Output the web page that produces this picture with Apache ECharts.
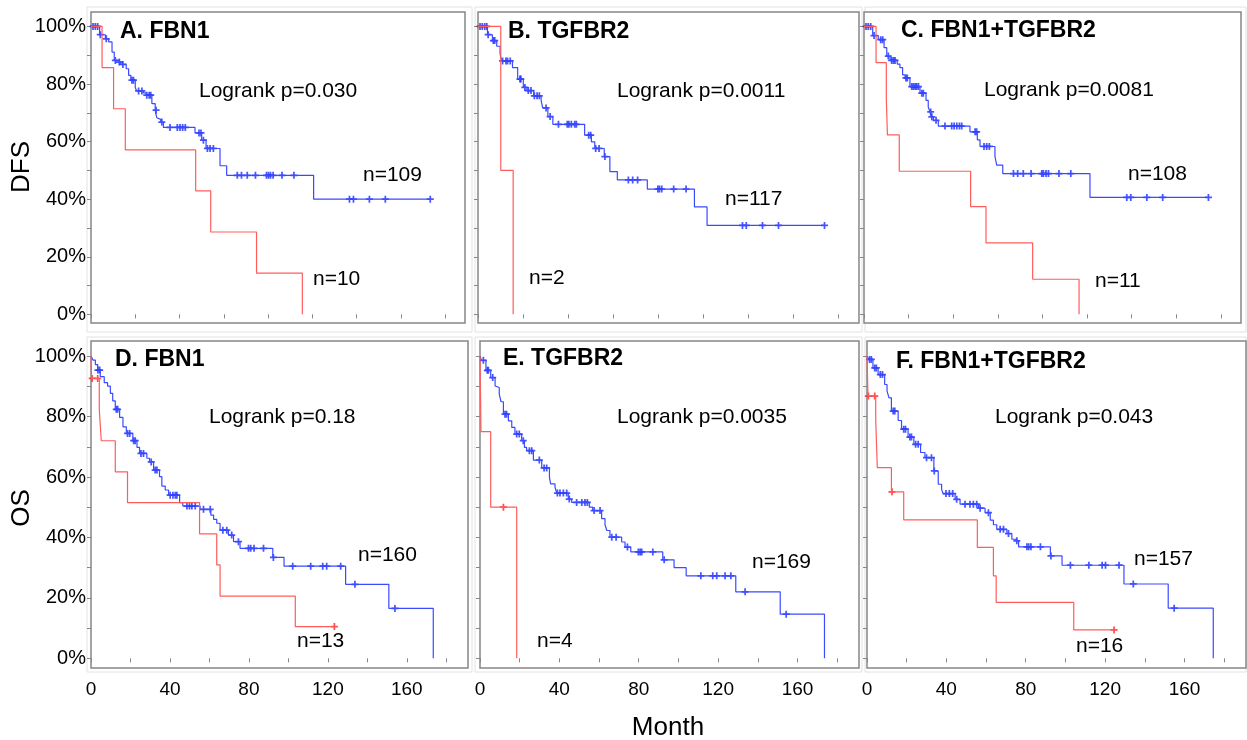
<!DOCTYPE html>
<html>
<head>
<meta charset="utf-8">
<script src="https://cdn.jsdelivr.net/npm/echarts@6/dist/echarts.min.js"></script>
<style>
  html, body { margin: 0; padding: 0; background: #fff; }
  #chart { width: 1247px; height: 740px; }
</style>
</head>
<body>
<div id="chart"></div>
<script>
// panel labels
const titles = ['A. FBN1', 'B. TGFBR2', 'C. FBN1+TGFBR2', 'D. FBN1', 'E. TGFBR2', 'F. FBN1+TGFBR2']
const pLabels = ['Logrank p=0.030', 'Logrank p=0.0011', 'Logrank p=0.0081', 'Logrank p=0.18', 'Logrank p=0.0035', 'Logrank p=0.043']
const nBlue = ['n=109', 'n=117', 'n=108', 'n=160', 'n=169', 'n=157']
const nRed = ['n=10', 'n=2', 'n=11', 'n=13', 'n=4', 'n=16']

const yTicks = [0, 10, 20, 30, 40, 50, 60, 70, 80, 90, 100]
const yLabels = [0, 20, 40, 60, 80, 100]
const xTicksDFS = [0, 20, 40, 60, 80, 100, 120, 140, 160]
const xTicksOS = [0, 20, 40, 60, 80, 100, 120, 140, 160, 180]
const xLabelsOS = [0, 40, 80, 120, 160]

// A. FBN1 DFS
const aBlueT = [3.9, 6.5, 8.0, 9.5, 10.5, 12.0, 13.5, 15.9, 17.0, 18.0, 20.0, 20.7, 23.7, 24.9, 27.5, 29.0, 29.7, 30.5, 31.5, 32.7, 47.0, 50.0, 52.0, 58.3, 61.3, 100.6]
const aBlueS = [97.1, 95.7, 94.6, 91.1, 88.2, 87.6, 86.8, 85.3, 83.0, 81.3, 78.7, 77.6, 76.9, 76.1, 73.2, 70.9, 68.3, 67.7, 66.8, 64.9, 63.0, 60.5, 57.6, 51.6, 48.3, 40.0]
const aBlueC = [0.9, 1.95, 3.0, 4.2, 6.9, 11.0, 12.8, 14.4, 18.5, 19.2, 21.5, 23.0, 25.2, 26.3, 27.0, 29.4, 32.0, 35.7, 39.0, 40.2, 41.4, 42.6, 48.8, 49.7, 50.8, 52.6, 53.8, 55.3, 66.1, 68.0, 70.6, 74.3, 79.3, 80.2, 81.1, 82.3, 86.3, 91.7, 116.8, 118.6, 125.8, 133.0, 153.3]
const aRedT = [5.0, 10.2, 15.5, 47.3, 54.1, 74.8, 95.5]
const aRedS = [85.7, 71.4, 57.1, 42.9, 28.6, 14.3, 0]
const aRedC = []

// B. TGFBR2 DFS
const bBlueT = [4.2, 6.4, 8.3, 9.8, 10.4, 15.3, 17.6, 20.1, 21.7, 24.7, 28.0, 28.7, 31.0, 33.2, 47.3, 50.3, 51.8, 56.0, 58.5, 61.8, 75.1, 96.0, 101.6]
const bBlueS = [97.1, 95.1, 93.1, 90.5, 88.0, 85.7, 81.7, 78.8, 77.7, 75.9, 74.2, 71.7, 68.7, 66.0, 62.2, 59.9, 57.6, 54.8, 49.6, 46.7, 43.5, 37.3, 30.9]
const bBlueC = [0.9, 1.9, 3.0, 3.9, 4.5, 6.8, 7.4, 10.9, 12.4, 13.1, 14.3, 18.6, 19.0, 20.8, 22.3, 23.5, 25.0, 26.2, 27.2, 30.2, 32.0, 35.7, 39.6, 40.3, 41.4, 42.9, 43.6, 49.1, 50.0, 52.2, 53.7, 56.3, 66.7, 68.6, 70.8, 79.8, 80.5, 81.5, 86.8, 92.3, 117.3, 119.0, 126.2, 133.3, 153.7]
const bRedT = [10.1, 15.6]
const bRedS = [50, 0]
const bRedC = []

// C. FBN1+TGFBR2 DFS
const cBlueT = [3.9, 6.4, 9.0, 10.2, 11.7, 14.9, 16.1, 17.3, 18.4, 20.6, 25.1, 27.8, 28.8, 29.6, 30.2, 31.1, 33.3, 47.5, 50.8, 52.0, 58.7, 59.5, 62.2, 101.3]
const cBlueS = [96.8, 95.4, 92.6, 89.7, 88.2, 86.9, 85.7, 83.2, 82.1, 79.1, 76.8, 74.3, 72.0, 70.3, 68.6, 67.4, 65.4, 63.4, 60.6, 58.3, 54.9, 51.8, 48.9, 40.6]
const cBlueC = [0.9, 1.9, 3.0, 4.5, 7.5, 8.4, 10.9, 12.4, 13.2, 13.9, 18.8, 19.4, 21.4, 22.1, 22.9, 23.6, 24.4, 25.9, 26.6, 29.9, 30.4, 32.3, 36.3, 39.3, 40.4, 41.6, 42.8, 43.8, 49.8, 50.5, 53.8, 55.0, 56.2, 67.0, 68.9, 71.4, 74.9, 79.7, 80.4, 81.6, 82.7, 87.4, 92.7, 117.8, 119.6, 126.8, 133.9, 154.4]
const cRedT = [5.4, 10.0, 10.5, 15.8, 47.8, 54.7, 75.6, 96.4]
const cRedS = [87.4, 74.9, 62.3, 49.7, 37.4, 24.8, 12.2, 0]
const cRedC = []

// D. FBN1 OS
const dBlueT = [1.0, 2.2, 3.4, 4.7, 6.7, 8.4, 9.8, 11.0, 12.3, 14.5, 16.2, 17.9, 21.2, 23.3, 24.6, 28.3, 29.7, 31.7, 34.7, 35.9, 37.6, 39.3, 44.9, 46.5, 55.3, 60.7, 62.1, 63.7, 65.4, 69.6, 72.2, 75.5, 92.1, 97.8, 129.0, 150.9, 173.4]
const dBlueS = [98.7, 97.2, 95.4, 93.2, 91.2, 90.1, 87.7, 85.2, 82.4, 79.7, 76.6, 74.4, 72.0, 69.8, 67.8, 66.2, 65.0, 62.3, 60.1, 57.0, 55.7, 54.0, 51.5, 50.4, 49.3, 47.4, 46.0, 44.7, 42.4, 40.8, 38.6, 36.4, 33.4, 30.5, 24.5, 16.5, 0]
const dBlueC = [3.5, 4.4, 12.8, 13.5, 18.5, 19.6, 21.6, 22.4, 25.3, 26.6, 30.5, 32.5, 33.4, 40.1, 41.5, 42.7, 43.5, 48.6, 49.9, 51.1, 52.8, 57.0, 60.4, 66.8, 68.8, 71.3, 74.7, 79.8, 80.9, 82.6, 87.4, 92.4, 102.2, 111.3, 117.4, 119.4, 126.5, 133.7, 154.0]
const dRedT = [0.3, 4.2, 5.2, 12.3, 18.5, 55.0, 63.7, 65.4, 103.5]
const dRedS = [92.6, 82.4, 72.0, 61.7, 51.5, 41.2, 30.9, 20.6, 10.5]
const dRedC = [0.6, 3.4, 123.3]

// E. TGFBR2 OS
const eBlueT = [0.8, 3.0, 5.4, 7.6, 8.4, 9.7, 10.6, 11.8, 14.3, 16.0, 17.6, 21.0, 22.4, 23.5, 26.9, 31.1, 35.0, 35.6, 37.8, 38.7, 44.5, 46.2, 55.1, 56.8, 61.3, 63.0, 63.9, 65.5, 71.4, 73.1, 76.0, 92.1, 97.8, 103.9, 128.9, 151.3, 173.6]
const eBlueS = [98.6, 95.3, 92.9, 90.1, 89.6, 87.4, 84.9, 80.8, 78.6, 76.4, 74.2, 72.0, 69.8, 68.7, 65.6, 63.0, 59.9, 57.7, 56.6, 54.7, 52.7, 51.6, 50.0, 48.9, 46.2, 44.2, 42.3, 40.1, 38.5, 36.8, 35.2, 32.6, 30.0, 27.3, 22.0, 14.6, 0]
const eBlueC = [1.7, 3.7, 4.2, 6.4, 12.6, 13.4, 18.5, 19.8, 21.8, 24.9, 26.1, 29.9, 32.3, 33.6, 39.0, 40.3, 42.0, 43.7, 45.0, 48.7, 51.3, 52.9, 54.1, 57.5, 60.5, 66.4, 68.6, 74.3, 79.8, 80.7, 81.5, 87.1, 92.8, 111.3, 117.3, 119.3, 123.5, 126.4, 133.6, 154.3]
const eRedT = [0.5, 5.4, 18.5]
const eRedS = [75, 50, 0]
const eRedC = [11.8]

// F. FBN1+TGFBR2 OS
const fBlueT = [1.0, 3.0, 5.6, 8.9, 10.1, 11.1, 12.3, 15.7, 17.4, 20.7, 23.6, 27.0, 29.2, 33.7, 35.9, 37.6, 38.4, 44.4, 46.9, 56.2, 59.5, 62.1, 63.7, 65.4, 70.5, 73.0, 74.7, 76.4, 92.4, 98.3, 129.5, 151.8, 174.5]
const fBlueS = [98.9, 96.1, 93.9, 90.6, 88.4, 86.2, 81.8, 78.7, 75.8, 73.2, 70.8, 68.1, 66.4, 62.0, 57.6, 55.9, 54.5, 52.6, 51.0, 49.7, 48.2, 45.7, 44.2, 42.7, 41.3, 39.4, 38.9, 36.9, 33.9, 30.8, 24.6, 16.6, 0]
const fBlueC = [1.3, 2.2, 3.9, 4.7, 6.7, 7.8, 13.2, 14.0, 18.5, 19.4, 21.6, 22.4, 24.5, 25.8, 30.0, 32.5, 33.9, 39.8, 41.5, 43.2, 45.2, 49.4, 51.9, 53.6, 55.3, 57.0, 61.2, 67.1, 68.8, 71.3, 75.5, 80.6, 81.5, 82.6, 87.4, 92.7, 102.5, 111.8, 118.5, 120.2, 127.0, 134.2, 154.8]
const fRedT = [0.5, 4.4, 5.2, 12.3, 18.5, 55.6, 63.7, 65.1, 104.2]
const fRedS = [86.8, 78.7, 63.1, 55.1, 45.8, 36.7, 27.3, 18.5, 9.4]
const fRedC = [0.7, 3.9, 12.6, 124.5]

const blueData = [[aBlueT, aBlueS, aBlueC], [bBlueT, bBlueS, bBlueC], [cBlueT, cBlueS, cBlueC], [dBlueT, dBlueS, dBlueC], [eBlueT, eBlueS, eBlueC], [fBlueT, fBlueS, fBlueC]]
const redData = [[aRedT, aRedS, aRedC], [bRedT, bRedS, bRedC], [cRedT, cRedS, cRedC], [dRedT, dRedS, dRedC], [eRedT, eRedS, eRedC], [fRedT, fRedS, fRedC]]

// layout (pixels)
const grids = [
  { left: 91, top: 12, width: 374, height: 311 },
  { left: 478, top: 12, width: 381, height: 311 },
  { left: 864, top: 12, width: 377, height: 311 },
  { left: 91, top: 341, width: 377, height: 327 },
  { left: 480, top: 341, width: 379, height: 327 },
  { left: 867, top: 341, width: 379, height: 327 }
]
const titlePos = [[120, 32], [508, 32], [901, 31], [115, 360], [503, 359], [896, 362]]
const pPos = [[199, 91], [617, 91], [984, 90], [209, 417], [617, 417], [995, 417]]
const nBluePos = [[363, 175], [725, 199], [1128, 174], [358, 555], [752, 562], [1134, 559]]
const nRedPos = [[313, 279], [529, 278], [1095, 281], [297, 641], [537, 641], [1076, 646]]

const BLUE = '#3a4aff'
const RED = '#ff5c5c'
const FRAME = '#878787'
const FONT = 'Liberation Sans, Arial, sans-serif'
const PLUS = 'path://M3,0h2v3h3v2h-3v3h-2v-3h-3v-2h3z'

const kmLine = (t, s, c) => {
  const pts = [[0, 100]]
  t.forEach((v, k) => pts.push([v, s[k]]))
  const lastC = c.length ? Math.max(...c) : 0
  const last = pts[pts.length - 1]
  if (lastC > last[0]) pts.push([lastC, last[1]])
  return pts
}
const censorPts = (t, s, c) => c.map(v => {
  let y = 100
  t.forEach((tt, k) => { if (tt <= v) y = s[k] })
  return [v, y]
})

const option = { animation: false, grid: [], xAxis: [], yAxis: [], series: [], graphic: [] }

grids.forEach((g, i) => {
  const isOS = i >= 3
  const firstCol = i % 3 === 0
  option.grid.push({ ...g, show: true, borderColor: FRAME, borderWidth: 1.5, backgroundColor: '#fff' })
  option.xAxis.push({
    type: 'value', gridIndex: i, min: 0, max: isOS ? 191 : 169,
    axisLine: { show: false },
    splitLine: { show: false },
    axisTick: { show: true, length: 4, customValues: isOS ? xTicksOS : xTicksDFS, lineStyle: { color: FRAME } },
    axisLabel: { show: isOS, customValues: xLabelsOS, fontSize: 19, fontFamily: FONT, color: '#000', margin: 12 }
  })
  option.yAxis.push({
    type: 'value', gridIndex: i, min: isOS ? -3.2 : -3, max: 105,
    axisLine: { show: false },
    splitLine: { show: false },
    axisTick: { show: true, length: 4, customValues: yTicks, lineStyle: { color: FRAME } },
    axisLabel: { show: firstCol, customValues: yLabels, formatter: v => v + '%', fontSize: 20, fontFamily: FONT, color: '#000', margin: 5 }
  })
  const [bt, bs, bc] = blueData[i]
  const [rt, rs, rc] = redData[i]
  option.series.push(
    { type: 'line', xAxisIndex: i, yAxisIndex: i, step: 'end', showSymbol: false, data: kmLine(bt, bs, bc), lineStyle: { color: BLUE, width: 1.2 }, itemStyle: { color: BLUE } },
    { type: 'line', xAxisIndex: i, yAxisIndex: i, step: 'end', showSymbol: false, data: kmLine(rt, rs, rc), lineStyle: { color: RED, width: 1.2 }, itemStyle: { color: RED } },
    { type: 'scatter', xAxisIndex: i, yAxisIndex: i, symbol: PLUS, symbolSize: 7, data: censorPts(bt, bs, bc), itemStyle: { color: '#1a2cff' } },
    { type: 'scatter', xAxisIndex: i, yAxisIndex: i, symbol: PLUS, symbolSize: 7, data: censorPts(rt, rs, rc), itemStyle: { color: '#ff2020' } }
  )
  const txt = (pos, text, size, weight) => ({
    type: 'text', x: pos[0], y: pos[1], z: 100,
    style: { text, fontSize: size, fontWeight: weight, fontFamily: FONT, fill: '#000', align: 'left', verticalAlign: 'middle' }
  })
  option.graphic.push(
    txt(titlePos[i], titles[i], 23, 'bold'),
    txt(pPos[i], pLabels[i], 21, 'normal'),
    txt(nBluePos[i], nBlue[i], 21, 'normal'),
    txt(nRedPos[i], nRed[i], 21, 'normal')
  )
})

// light outer boxes around each panel
const boxes = [[87, 7, 385, 325], [475, 7, 387, 325], [865, 7, 381, 325], [87, 337, 385, 335], [475, 337, 387, 335], [865, 337, 381, 335]]
boxes.forEach(b => option.graphic.push({
  type: 'rect', z: -10, shape: { x: b[0], y: b[1], width: b[2], height: b[3] },
  style: { fill: 'none', stroke: '#e2e2e2', lineWidth: 1 }
}))

// axis names
const axisText = (x, y, text, rot) => ({
  type: 'text', x, y, rotation: rot,
  style: { text, fontSize: 26, fontFamily: FONT, fill: '#000', align: 'center', verticalAlign: 'middle' }
})
option.graphic.push(
  axisText(22, 167, 'DFS', Math.PI / 2),
  axisText(22, 508, 'OS', Math.PI / 2),
  axisText(668, 728, 'Month', 0)
)

const chart = echarts.init(document.getElementById('chart'))
chart.setOption(option)
</script>
</body>
</html>
